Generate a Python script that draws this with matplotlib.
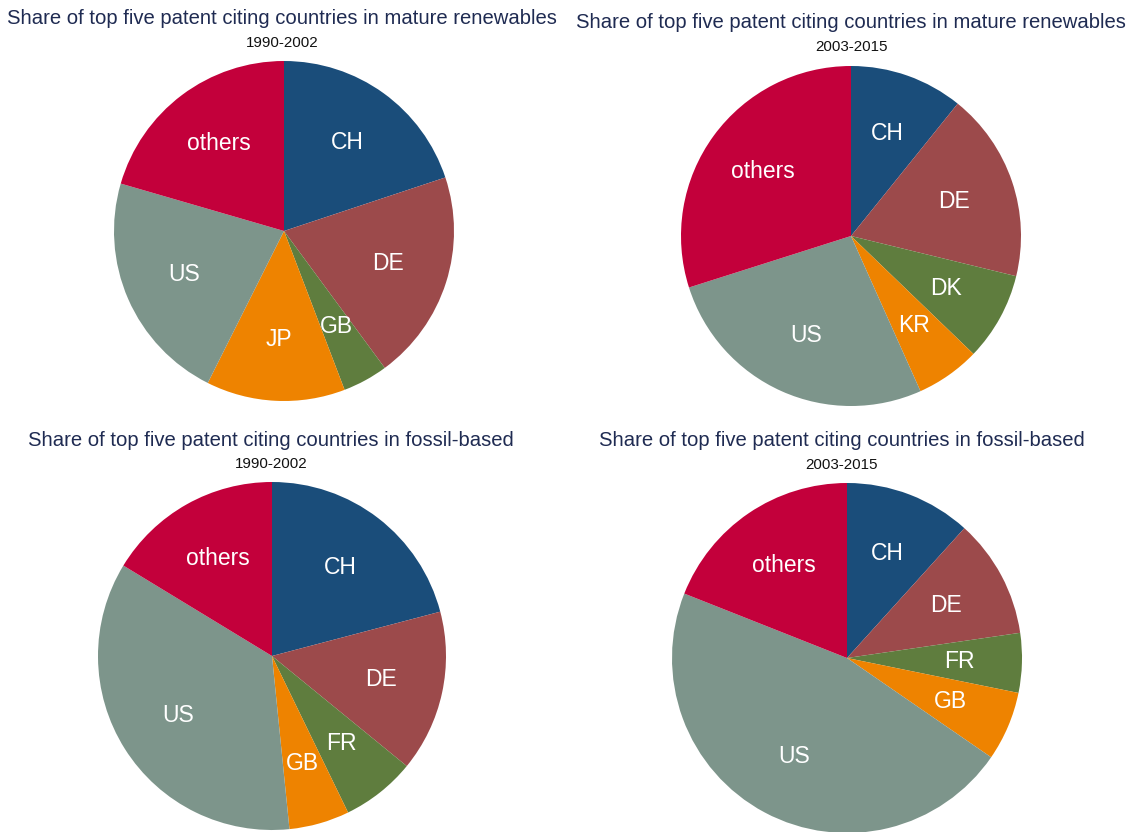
import matplotlib
matplotlib.use("Agg")
import matplotlib.pyplot as plt

plt.rcParams['font.family'] = ['Liberation Sans', 'DejaVu Sans']

W, H = 1128, 832
DPI = 100

title_renew = "Share of top five patent citing countries in mature renewables"
title_fossil = "Share of top five patent citing countries in fossil-based"
period1 = "1990-2002"
period2 = "2003-2015"

labels_r1 = ["CH", "DE", "GB", "JP", "US", "others"]
values_r1 = [19.9, 20.0, 4.3, 13.2, 22.1, 20.5]

labels_r2 = ["CH", "DE", "DK", "KR", "US", "others"]
values_r2 = [10.8, 18.0, 8.4, 6.1, 26.8, 29.9]

labels_f1 = ["CH", "DE", "FR", "GB", "US", "others"]
values_f1 = [20.9, 15.0, 6.9, 5.6, 35.3, 16.3]

labels_f2 = ["CH", "DE", "FR", "GB", "US", "others"]
values_f2 = [11.7, 11.0, 5.5, 6.4, 46.4, 19.0]

C_CH = "#1a4d7a"
C_DE = "#9c4a4b"
C_GREEN = "#5f7d3e"
C_ORANGE = "#ee8300"
C_US = "#7d958b"
C_OTH = "#c3003b"

colors_r1 = [C_CH, C_DE, C_GREEN, C_ORANGE, C_US, C_OTH]
colors_r2 = [C_CH, C_DE, C_GREEN, C_ORANGE, C_US, C_OTH]
colors_f1 = [C_CH, C_DE, C_GREEN, C_ORANGE, C_US, C_OTH]
colors_f2 = [C_CH, C_DE, C_GREEN, C_ORANGE, C_US, C_OTH]

fig = plt.figure(figsize=(W / DPI, H / DPI), dpi=DPI)
fig.patch.set_facecolor("white")

TITLE_COLOR = "#1f2b52"


def px_text(x, y, s, **kw):
    fig.text(x / W, 1 - y / H, s, ha="center", va="center", **kw)


panels = [
    # (title, period, title_x, title_y, sub_y, cx, cy, r, labels, values, colors)
    (title_renew, period1, 282, 19, 43, 284, 231, 170, labels_r1, values_r1, colors_r1),
    (title_renew, period2, 851, 22, 47, 851, 236, 170, labels_r2, values_r2, colors_r2),
    (title_fossil, period1, 271, 440, 464, 272, 656, 174, labels_f1, values_f1, colors_f1),
    (title_fossil, period2, 842, 441, 465, 847, 658, 175, labels_f2, values_f2, colors_f2),
]

for (title, period, tx, ty, sy, cx, cy, r, labs, vals, cols) in panels:
    px_text(tx, ty, title, fontsize=14.6, color=TITLE_COLOR)
    px_text(tx, sy, period, fontsize=10.9, color="#111111")
    ax = fig.add_axes([(cx - r) / W, 1 - (cy + r) / H, 2 * r / W, 2 * r / H])
    wedges, texts = ax.pie(vals, labels=labs, colors=cols, startangle=90,
                           counterclock=False, radius=1.0, labeldistance=0.64,
                           wedgeprops=dict(linewidth=0),
                           textprops=dict(color="white", fontsize=16.5,
                                          ha="center", va="center"))
    for t in texts:
        t.set_ha("center")
        t.set_va("center")
    ax.set_xlim(-1, 1)
    ax.set_ylim(-1, 1)
    ax.set_aspect("auto")
    ax.axis("off")

fig.savefig("out.png", dpi=DPI, facecolor="white")
